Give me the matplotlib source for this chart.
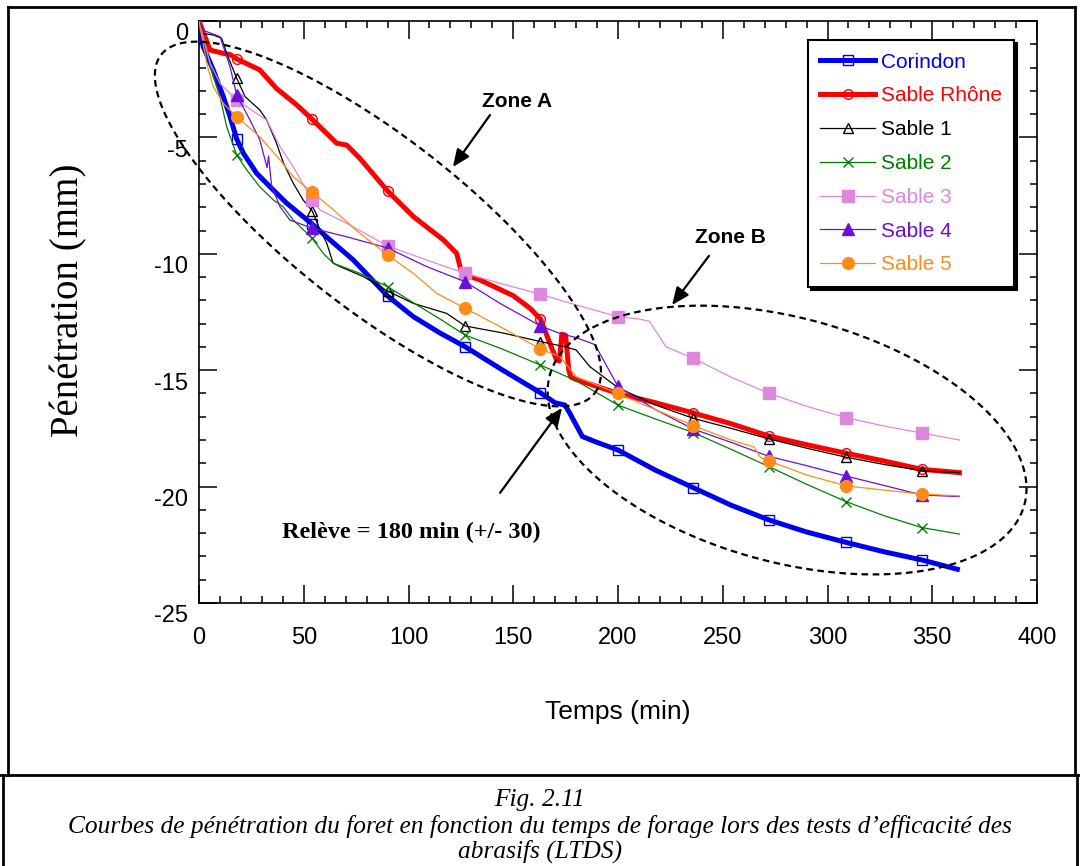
import numpy as np
import matplotlib
matplotlib.use("Agg")
import matplotlib.pyplot as plt
from matplotlib.ticker import MultipleLocator
from matplotlib.transforms import ScaledTranslation
from matplotlib.lines import Line2D

plt.rcParams["axes.unicode_minus"] = False

# temps (min) / pénétration (mm)
t_corindon = [0, 2, 6.8, 11.6, 14.8, 18, 21.2, 27.5, 33.9, 41.9, 54, 62.5, 73.7, 90, 102.3, 115, 127, 145,
              163, 170, 174.7, 177, 183, 190, 200, 218, 236, 254, 272, 290, 309, 327, 345, 362]
y_corindon = [0, -1.1, -2.1, -3.25, -4.1, -5.07, -5.68, -6.54, -7.12, -7.83, -8.72, -9.4, -10.27, -11.81, -12.7,
              -13.4, -13.99, -15.0, -15.97, -16.4, -16.5, -16.85, -17.85, -18.1, -18.43, -19.3, -20.05, -20.8,
              -21.43, -21.95, -22.4, -22.8, -23.15, -23.55]

t_rhone = [0, 5.3, 11.6, 14.8, 18, 29, 37, 46.6, 54, 65.7, 70.5, 76.8, 90, 102.3, 116.6, 123, 125.4, 127, 134,
           150, 158, 163, 167.5, 170.7, 172, 173.2, 175, 176.5, 177.5, 180, 190, 200, 218, 236, 254, 272, 290,
           309, 327, 345, 363]
y_rhone = [0, -1.25, -1.39, -1.44, -1.63, -2.1, -2.9, -3.6, -4.22, -5.25, -5.33, -5.9, -7.3, -8.4, -9.4, -9.98,
           -10.84, -10.9, -11.12, -11.8, -12.34, -12.8, -13.85, -14.56, -14.6, -13.45, -13.5, -15.0, -15.3, -15.4,
           -15.7, -16.0, -16.4, -16.84, -17.3, -17.83, -18.2, -18.57, -18.9, -19.26, -19.4]

t_sable1 = [0, 1.3, 6.8, 10.8, 13.2, 18, 22, 29, 32.3, 37, 40.3, 45, 49.8, 54, 57.8, 61, 64, 67.3, 78.5, 90,
            102.3, 118.2, 127, 145, 163, 175, 180, 186.6, 200, 218, 236, 254, 272, 290, 309, 327, 345, 363]
y_sable1 = [0, -0.53, -0.6, -0.74, -1.39, -2.46, -3.25, -3.82, -4.25, -5.25, -6.1, -6.97, -7.7, -8.15, -8.98,
            -9.55, -10.4, -10.55, -10.98, -11.6, -12.13, -12.56, -13.1, -13.4, -13.77, -14.0, -14.13, -14.85,
            -15.75, -16.5, -17.07, -17.5, -17.95, -18.35, -18.74, -19.05, -19.32, -19.4]

t_sable2 = [0, 3.7, 6.8, 10, 13.2, 18, 22.8, 29, 35.5, 40.2, 45, 54, 59.3, 64, 76.8, 90, 102.3, 115, 127, 145,
            163, 180, 200, 218, 236, 254, 272, 290, 309, 327, 345, 363]
y_sable2 = [0, -1.39, -2.39, -3.25, -4.54, -5.76, -6.4, -7.12, -7.69, -7.98, -8.55, -9.33, -9.98, -10.4, -10.84,
            -11.41, -12.1, -12.8, -13.49, -14.1, -14.78, -15.45, -16.5, -17.1, -17.68, -18.4, -19.14, -19.9,
            -20.65, -21.25, -21.76, -22.04]

t_sable3 = [0, 5.3, 10, 18, 27.5, 32.3, 38.7, 45, 54, 57.8, 70.5, 90, 108.7, 127, 145, 163, 180, 200, 210, 215,
            223, 236, 254, 272, 290, 309, 327, 345, 363]
y_sable3 = [0, -1.82, -2.68, -3.4, -3.97, -4.25, -5.4, -6.26, -7.7, -8.12, -8.69, -9.66, -10.27, -10.84, -11.3,
            -11.74, -12.2, -12.7, -12.8, -12.9, -14.0, -14.49, -15.3, -15.99, -16.55, -17.04, -17.4, -17.7, -18.0]

t_sable4 = [0, 2, 10, 12, 14.8, 18, 24.3, 29, 32.5, 33.2, 34.7, 38.7, 43.4, 54, 70.5, 90, 108.7, 127, 143.7,
            163, 172.3, 180, 189, 200, 218, 236, 254, 272, 290, 309, 327, 345, 363]
y_sable4 = [0, -0.4, -0.67, -1.2, -1.96, -3.18, -4.25, -5.1, -6.3, -5.8, -7.12, -7.98, -8.55, -8.9, -9.27,
            -9.75, -10.55, -11.2, -12.13, -13.1, -13.42, -13.6, -13.9, -15.7, -16.7, -17.53, -18.1, -18.7,
            -19.1, -19.55, -19.95, -20.36, -20.43]

t_sable5 = [0, 3.7, 6.8, 11.6, 18, 29, 38.7, 45, 54, 62.5, 76.8, 90, 102.3, 113.5, 127, 143.7, 163, 172.3, 180,
            200, 218, 236, 254, 265, 268, 272, 290, 309, 327, 345, 363]
y_sable5 = [0, -1.82, -2.82, -3.54, -4.11, -4.97, -5.97, -6.69, -7.36, -7.98, -9.12, -10.05, -10.84, -11.7,
            -12.34, -13.13, -14.09, -14.42, -15.28, -16.0, -16.7, -17.38, -18.0, -18.3, -18.75, -18.9, -19.5,
            -19.97, -20.15, -20.32, -20.4]

mark_t = [18, 54, 90, 127, 163, 200, 236, 272, 309, 345]

series = [
    ("Corindon", t_corindon, y_corindon, "#0000f0", 3.6, "s", "none", 7),
    ("Sable Rhône", t_rhone, y_rhone, "#ff0000", 3.6, "o", "none", 7),
    ("Sable 1", t_sable1, y_sable1, "#000000", 0.9, "^", "none", 7),
    ("Sable 2", t_sable2, y_sable2, "#008000", 0.9, "x", "none", 7),
    ("Sable 3", t_sable3, y_sable3, "#dd88dd", 0.9, "s", "#dd88dd", 8),
    ("Sable 4", t_sable4, y_sable4, "#6a10d8", 0.9, "^", "#6a10d8", 8),
    ("Sable 5", t_sable5, y_sable5, "#ff8c1a", 0.9, "o", "#ff8c1a", 8.5),
]

caption_title = "Fig. 2.11"
caption_line1 = "Courbes de pénétration du foret en fonction du temps de forage lors des tests d’efficacité des"
caption_line2 = "abrasifs (LTDS)"

fig = plt.figure(figsize=(10.8, 8.66), dpi=100)
ax = fig.add_axes([199 / 1080, 1 - 603 / 866, 838 / 1080, 582 / 866])

for name, t, y, c, lw, m, mfc, ms in series:
    t = np.array(t)
    idx = list(np.where(np.isin(t, mark_t))[0])
    ax.plot(t, y, color=c, lw=lw, marker=m, markevery=idx, mfc=mfc, mec=c, ms=ms,
            mew=1.0, label=name, zorder=3)

ax.set_xlim(0, 400)
ax.set_ylim(-25, 0)
ax.xaxis.set_major_locator(MultipleLocator(50))
ax.xaxis.set_minor_locator(MultipleLocator(10))
ax.yaxis.set_major_locator(MultipleLocator(5))
ax.yaxis.set_minor_locator(MultipleLocator(1))
ax.tick_params(which="both", direction="in", top=True, right=True, width=1.1)
ax.tick_params(which="major", length=13, labelsize=17, pad=8)
ax.tick_params(which="minor", length=5)
ax.tick_params(axis="x", which="major", pad=17)
for s in ax.spines.values():
    s.set_linewidth(1.2)
for lab in ax.get_xticklabels() + ax.get_yticklabels():
    lab.set_fontfamily("Liberation Sans")

ax.set_xlabel("Temps (min)", fontsize=19, fontfamily="Liberation Sans", labelpad=37)
ax.set_ylabel("Pénétration (mm)", fontsize=28, fontfamily="Liberation Serif")
ax.yaxis.set_label_coords(-0.133, 0.52)

leg = ax.legend(loc="upper left", bbox_to_anchor=(0.7267, 0.967), borderaxespad=0, fancybox=False,
                edgecolor="black", shadow={"color": "black", "alpha": 1}, labelcolor="linecolor",
                prop={"family": "Liberation Sans", "size": 15}, handlelength=2.6, handletextpad=0.3,
                labelspacing=0.71, borderpad=0.6, framealpha=1)
leg.get_frame().set_linewidth(1.5)


def dashed_ellipse(cx, cy, a, b, angle):
    # centre in data units, half-axes in screen pixels
    th = np.linspace(0, 2 * np.pi, 300)
    ang = np.deg2rad(angle)
    c0 = ax.transData.transform((cx, cy))
    dx = a * np.cos(th) * np.cos(ang) - b * np.sin(th) * np.sin(ang)
    dy = a * np.cos(th) * np.sin(ang) + b * np.sin(th) * np.cos(ang)
    pts = ax.transData.inverted().transform(np.column_stack([c0[0] + dx, c0[1] + dy]))
    ax.plot(pts[:, 0], pts[:, 1], color="black", lw=1.6, ls=(0, (3, 2)), clip_on=False, zorder=4)


dashed_ellipse(85.4, -8.72, 275, 86, -38)
dashed_ellipse(280.7, -18.0, 246, 122, -15.3)

arrow = dict(arrowstyle="-|>,head_length=0.7,head_width=0.3", color="black", lw=1.6,
             shrinkA=0, shrinkB=0, mutation_scale=15)
ax.annotate("", xy=(121.2, -6.27), xytext=(138.9, -4.04), arrowprops=arrow)
ax.annotate("", xy=(225.8, -12.2), xytext=(243.4, -10.09), arrowprops=arrow)
ax.annotate("", xy=(173.3, -16.62), xytext=(143.7, -20.27), arrowprops=arrow)
ax.text(151.8, -3.44, "Zone A", fontsize=15, fontweight="bold", fontfamily="Liberation Sans",
        ha="center", va="center")
ax.text(253.5, -9.28, "Zone B", fontsize=15, fontweight="bold", fontfamily="Liberation Sans",
        ha="center", va="center")
ax.text(101.2, -21.95, "Relève = 180 min (+/- 30)", fontsize=17.5, fontweight="bold",
        fontfamily="Liberation Serif", ha="center", va="center")

# frames around figure and caption
W, H = 1080, 866
for (x0, y0, x1, y1) in [(8, 7, 1075, 7), (8, 7, 8, 775), (1075, 7, 1075, 775), (0, 775, 1080, 775),
                         (3, 775, 3, 866), (1077, 775, 1077, 866)]:
    fig.add_artist(Line2D([x0 / W, x1 / W], [1 - y0 / H, 1 - y1 / H], color="black", lw=2,
                          transform=fig.transFigure))

cap = dict(fontfamily="Liberation Serif", style="italic", fontsize=18.3, ha="center", va="center")
fig.text(0.5, 1 - 800 / H, caption_title, **cap)
fig.text(0.5, 1 - 826 / H, caption_line1, **cap)
fig.text(0.5, 1 - 851 / H, caption_line2, **cap)

fig.canvas.draw()
off = ScaledTranslation(0, -11 / 100, fig.dpi_scale_trans)
for tick in ax.yaxis.get_major_ticks():
    tick.label1.set_transform(tick.label1.get_transform() + off)

fig.savefig("out.png", dpi=100)
